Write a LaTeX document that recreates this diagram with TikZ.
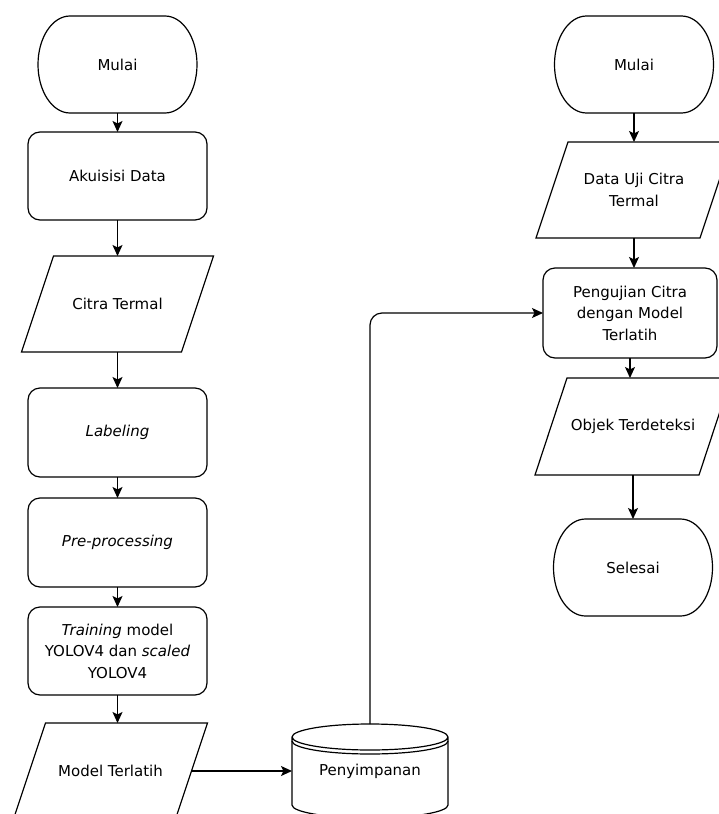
\documentclass[tikz,border=0pt]{standalone}
\usepackage{fontspec}
\setmainfont{DejaVu Sans}
\usetikzlibrary{arrows.meta,positioning}

\begin{document}
\begin{tikzpicture}[
        x=1pt, y=-1pt,
        font=\fontsize{15}{21.5}\selectfont,
        garis/.style={line width=1.2pt, draw=black},
        terminal/.style={rectangle, minimum width=159pt, minimum height=97pt, inner sep=0pt, outer sep=0pt, align=center},
        proses/.style={rectangle, garis, rounded corners=12pt, minimum width=179pt, minimum height=88pt, inner sep=0pt, outer sep=0pt, align=center},
        io/.style={rectangle, minimum height=96pt, inner sep=0pt, outer sep=0pt, align=center},
        simpanbox/.style={rectangle, minimum width=156pt, minimum height=94pt, inner sep=0pt, outer sep=0pt, align=center},
        arrow/.style={garis, -{Stealth[length=11pt,width=10pt,inset=2.5pt]}}
    ]
        \useasboundingbox (0,0) rectangle (718,814);

        % alur pelatihan
        \node[terminal] (mulaiA) at (117.5,64.5) {Mulai};
        \node[proses, below=19pt of mulaiA] (akuisisi) {Akuisisi Data};
        \node[io, minimum width=192pt, below=36pt of akuisisi] (citra) {Citra Termal};
        \node[proses, minimum height=89pt, below=36pt of citra] (labeling) {\textit{Labeling}};
        \node[proses, minimum height=89pt, below=21pt of labeling] (prepro) {\textit{Pre-processing}};
        \node[proses, below=20pt of prepro] (training) {\textit{Training} model\\YOLOV4 dan \textit{scaled}\\YOLOV4};
        \node[io, minimum width=194pt, below=28pt of training, xshift=-7pt] (model) {Model Terlatih};
        \node[simpanbox] (simpan) at (370,771) {Penyimpanan};

        % alur pengujian
        \node[terminal] (mulaiB) at (634,64.5) {Mulai};
        \node[io, minimum width=196pt, below=29pt of mulaiB] (datauji) {Data Uji Citra\\Termal};
        \node[proses, minimum width=174pt, minimum height=90pt, below=30pt of datauji, xshift=-4pt] (pengujian) {Pengujian Citra\\dengan Model\\Terlatih};
        \node[io, minimum width=196pt, minimum height=97pt, below=20pt of pengujian, xshift=3pt] (objek) {Objek Terdeteksi};
        \node[terminal, below=44pt of objek] (selesai) {Selesai};

        % bentuk terminal
        \foreach \t in {mulaiA,mulaiB,selesai}
            \draw[garis] ([xshift=32pt]\t.north west) -- ([xshift=-32pt]\t.north east)
                arc[start angle=90, end angle=-90, x radius=32pt, y radius=48.5pt]
                -- ([xshift=32pt]\t.south west)
                arc[start angle=270, end angle=90, x radius=32pt, y radius=48.5pt] -- cycle;

        % jajar genjang input/output
        \foreach \t in {citra,model,datauji,objek}
            \draw[garis] ([xshift=32pt]\t.north west) -- (\t.north east)
                -- ([xshift=-32pt]\t.south east) -- (\t.south west) -- cycle;

        % tabung penyimpanan
        \draw[garis] ([yshift=-13pt]simpan.north west) -- ([yshift=13pt]simpan.south west)
            arc[start angle=180, end angle=360, x radius=78pt, y radius=13pt]
            -- ([yshift=-13pt]simpan.north east)
            arc[start angle=0, end angle=360, x radius=78pt, y radius=13pt];
        \draw[garis] ([yshift=-17pt]simpan.north west)
            arc[start angle=180, end angle=360, x radius=78pt, y radius=13pt];

        \draw[arrow] (mulaiA.south) -- (mulaiA.south |- akuisisi.north);
        \draw[arrow] (akuisisi.south) -- (akuisisi.south |- citra.north);
        \draw[arrow] (citra.south) -- (citra.south |- labeling.north);
        \draw[arrow] (labeling.south) -- (labeling.south |- prepro.north);
        \draw[arrow] (prepro.south) -- (prepro.south |- training.north);
        \draw[arrow] (training.south) -- (training.south |- model.north);
        \draw[arrow] ([xshift=-16pt]model.east) -- (simpan.west);
        \draw[arrow, rounded corners=12pt] (simpan.north) |- (pengujian.west);

        \draw[arrow] (mulaiB.south) -- (mulaiB.south |- datauji.north);
        \draw[arrow] (datauji.south) -- (datauji.south |- pengujian.north);
        \draw[arrow] (pengujian.south) -- (pengujian.south |- objek.north);
        \draw[arrow] (objek.south) -- (objek.south |- selesai.north);
    \end{tikzpicture}
\end{document}
